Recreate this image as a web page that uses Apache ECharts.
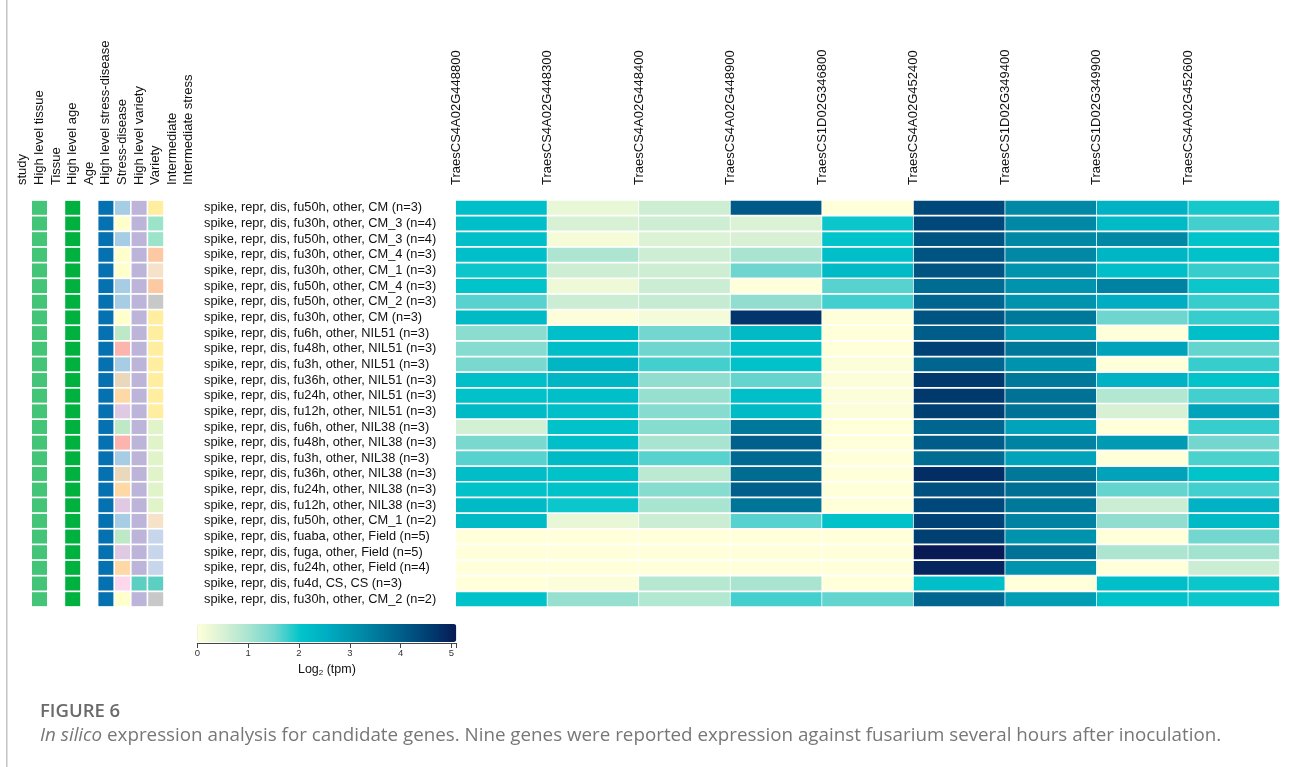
<!DOCTYPE html>
<html>
<head>
<meta charset="utf-8">
<script src="https://cdn.jsdelivr.net/npm/echarts@6/dist/echarts.min.js"></script>
<style>
html,body{margin:0;padding:0;background:#fff;}
#c{width:1289px;height:767px;}
</style>
</head>
<body>
<div id="c"></div>
<script>
// ---------------- DATA ----------------
const rowLabels = [
  'spike, repr, dis, fu50h, other, CM (n=3)',
  'spike, repr, dis, fu30h, other, CM_3 (n=4)',
  'spike, repr, dis, fu50h, other, CM_3 (n=4)',
  'spike, repr, dis, fu30h, other, CM_4 (n=3)',
  'spike, repr, dis, fu30h, other, CM_1 (n=3)',
  'spike, repr, dis, fu50h, other, CM_4 (n=3)',
  'spike, repr, dis, fu50h, other, CM_2 (n=3)',
  'spike, repr, dis, fu30h, other, CM (n=3)',
  'spike, repr, dis, fu6h, other, NIL51 (n=3)',
  'spike, repr, dis, fu48h, other, NIL51 (n=3)',
  'spike, repr, dis, fu3h, other, NIL51 (n=3)',
  'spike, repr, dis, fu36h, other, NIL51 (n=3)',
  'spike, repr, dis, fu24h, other, NIL51 (n=3)',
  'spike, repr, dis, fu12h, other, NIL51 (n=3)',
  'spike, repr, dis, fu6h, other, NIL38 (n=3)',
  'spike, repr, dis, fu48h, other, NIL38 (n=3)',
  'spike, repr, dis, fu3h, other, NIL38 (n=3)',
  'spike, repr, dis, fu36h, other, NIL38 (n=3)',
  'spike, repr, dis, fu24h, other, NIL38 (n=3)',
  'spike, repr, dis, fu12h, other, NIL38 (n=3)',
  'spike, repr, dis, fu50h, other, CM_1 (n=2)',
  'spike, repr, dis, fuaba, other, Field (n=5)',
  'spike, repr, dis, fuga, other, Field (n=5)',
  'spike, repr, dis, fu24h, other, Field (n=4)',
  'spike, repr, dis, fu4d, CS, CS (n=3)',
  'spike, repr, dis, fu30h, other, CM_2 (n=2)'
];

const annotHeaders = ['study','High level tissue','Tissue','High level age','Age',
  'High level stress-disease','Stress-disease','High level variety','Variety',
  'Intermediate','Intermediate stress'];

const hlTissue = Array(26).fill('spike');
const hlAge = Array(26).fill('repr');
const hlStress = Array(26).fill('dis');
const stressDisease = ['fu50h','fu30h','fu50h','fu30h','fu30h','fu50h','fu50h','fu30h',
  'fu6h','fu48h','fu3h','fu36h','fu24h','fu12h',
  'fu6h','fu48h','fu3h','fu36h','fu24h','fu12h',
  'fu50h','fuaba','fuga','fu24h','fu4d','fu30h'];
const hlVariety = ['other','other','other','other','other','other','other','other',
  'other','other','other','other','other','other','other','other','other','other',
  'other','other','other','other','other','other','CS','other'];
const variety = ['CM','CM_3','CM_3','CM_4','CM_1','CM_4','CM_2','CM',
  'NIL51','NIL51','NIL51','NIL51','NIL51','NIL51',
  'NIL38','NIL38','NIL38','NIL38','NIL38','NIL38',
  'CM_1','Field','Field','Field','CS','CM_2'];

const genes = ['TraesCS4A02G448800','TraesCS4A02G448300','TraesCS4A02G448400',
  'TraesCS4A02G448900','TraesCS1D02G346800','TraesCS4A02G452400',
  'TraesCS1D02G349400','TraesCS1D02G349900','TraesCS4A02G452600'];

// log2(tpm) per gene, rows in the order of rowLabels
const g4A448800 = [2.1,2.1,2.1,2.1,1.95,2.0,1.6,2.2,1.25,1.3,1.4,2.1,2.05,2.2,0.55,1.4,1.6,2.15,2.05,2.2,2.2,0,0,0,0,2.05];
const g4A448300 = [0.3,0.5,0.1,0.95,0.6,0.2,0.65,0.05,2.1,2.15,2.3,2.3,2.1,2.1,2.05,2.1,2.2,2.05,2.05,1.95,0.3,0,0,0,0.05,1.15];
const g4A448400 = [0.6,0.6,0.45,0.6,0.6,0.65,0.7,0.15,1.45,1.5,1.7,1.2,1.15,1.3,1.3,1.0,1.6,0.8,1.3,1.0,0.65,0,0,0,0.85,0.9];
const g4A448900 = [4.0,0.45,0.5,1.0,1.5,0,1.2,4.6,2.2,2.1,2.05,1.55,2.1,2.2,3.5,3.9,3.75,3.7,3.9,3.55,1.6,0,0,0,1.0,1.7];
const g1D346800 = [0,1.95,2.0,2.1,2.2,1.6,1.7,0,0,0,0.05,0.05,0.05,0.05,0,0,0,0,0,0,2.05,0,0,0,0,1.55];
const g4A452400 = [4.3,4.3,4.1,4.1,4.1,3.7,3.8,4.1,3.95,4.4,3.8,4.55,4.55,4.45,3.8,3.95,3.7,4.7,4.15,4.3,4.4,4.45,5.0,4.85,2.1,3.8];
const g1D349400 = [3.2,3.2,3.2,3.2,3.0,3.0,3.0,3.5,2.8,3.5,3.0,3.5,3.6,3.6,2.7,3.3,2.7,3.5,3.65,3.5,3.3,3.0,3.6,3.0,0,2.8];
const g1D349900 = [2.4,2.2,3.2,2.3,2.1,3.3,2.5,1.5,0,2.7,0,2.4,0.9,0.5,0,2.85,0,2.7,1.55,0.65,1.2,0,0.95,0,2.1,2.05];
const g4A452600 = [1.9,1.7,2.0,2.05,1.75,1.95,1.75,1.75,2.1,1.55,1.75,2.0,1.7,2.7,1.75,1.45,1.65,2.0,1.7,2.4,2.2,1.45,1.05,0.65,1.95,1.95];

const colorTicks = [0,1,2,3,4,5];

// ---------------- STYLE MAPS ----------------
const palette = {
  spike:'#43c476', repr:'#00b140', dis:'#0571b0',
  fu50h:'#a6cde3', fu30h:'#ffffcc', fu6h:'#bee9c6', fu48h:'#fbb4ae', fu3h:'#a6cde3',
  fu36h:'#ead8bd', fu24h:'#fed9a6', fu12h:'#dfc9e3', fuaba:'#bee9c6', fuga:'#dfc9e3', fu4d:'#fdd8ec',
  other:'#bcb5d9', CS:'#5ccfc2',
  CM:'#ffeda0', CM_3:'#9be3c9', CM_4:'#fdc9a2', CM_1:'#f5e2c8', CM_2:'#c8c8c8',
  NIL51:'#ffeda0', NIL38:'#e1f3c9', Field:'#c7d6ea'
};
const scaleColors = ['#ffffd9','#d8f1d4','#a8e4d0','#6ed6cf','#00c4c9','#00adc2','#0093ad','#00789a','#005a87','#003c70','#081a55'];

// ---------------- BUILD ----------------
const geneValues = [g4A448800,g4A448300,g4A448400,g4A448900,g1D346800,g4A452400,g1D349400,g1D349900,g4A452600];
const heatData = [];
geneValues.forEach((arr, gi) => arr.forEach((v, r) => heatData.push([gi, r, v])));

const annotCols = {1: hlTissue, 3: hlAge, 5: hlStress, 6: stressDisease, 7: hlVariety, 8: variety};
const annotData = [], annotColor = [];
Object.keys(annotCols).forEach(k => {
  annotCols[k].forEach((cat, r) => { annotData.push([+k, r]); annotColor.push(palette[cat]); });
});

const FONT = 'Liberation Sans, Arial, sans-serif';
const chart = echarts.init(document.getElementById('c'), null, {renderer: 'canvas'});
chart.setOption({
  backgroundColor: '#fff',
  animation: false,
  grid: [
    {left: 14.6, width: 182.6, top: 200, height: 407},
    {left: 456, width: 824, top: 200, height: 407},
    {left: 197.3, width: 259.2, top: 643, height: 0}
  ],
  xAxis: [
    {gridIndex: 0, type: 'category', data: annotHeaders, position: 'top',
      axisLine: {show: false}, axisTick: {show: false},
      axisLabel: {rotate: -90, margin: 15, interval: 0, fontFamily: FONT, fontSize: 13, color: '#111'}},
    {gridIndex: 1, type: 'value', min: 0, max: 9, interval: 1, position: 'top',
      splitLine: {show: false}, axisLine: {show: false}, axisTick: {show: false},
      axisLabel: {rotate: -90, margin: 15, showMaxLabel: true, fontFamily: FONT, fontSize: 13, color: '#111',
        formatter: v => genes[v] || ''}},
    {gridIndex: 2, type: 'value', min: 0, max: 5.1, interval: 1, position: 'bottom',
      splitLine: {show: false},
      axisLine: {show: true, lineStyle: {color: '#444', width: 1}},
      axisTick: {show: true, length: 5, lineStyle: {color: '#444'}},
      axisLabel: {margin: 5, fontFamily: FONT, fontSize: 9.5, color: '#333',
        formatter: v => (colorTicks.indexOf(v) >= 0 ? String(v) : '')},
      name: 'Log{s|2} (tpm)', nameLocation: 'middle', nameGap: 20,
      nameTextStyle: {fontFamily: FONT, fontSize: 12.5, color: '#111',
        rich: {s: {fontSize: 8, verticalAlign: 'bottom', padding: [6, 0, 0, 0], fontFamily: FONT, color: '#111'}}}}
  ],
  yAxis: [
    {gridIndex: 0, type: 'category', data: rowLabels, inverse: true, show: false},
    {gridIndex: 1, type: 'category', data: rowLabels, inverse: true,
      axisLine: {show: false}, axisTick: {show: false},
      axisLabel: {align: 'left', margin: 252, interval: 0, fontFamily: FONT, fontSize: 12.8, color: '#111'}},
    {gridIndex: 2, type: 'value', show: false}
  ],
  visualMap: [{
    type: 'continuous', seriesIndex: 1, dimension: 2, min: 0, max: 5,
    orient: 'horizontal', left: 197.3, top: 624, itemWidth: 18, itemHeight: 259,
    calculable: false, realtime: false, padding: 0, text: null, showLabel: false,
    inRange: {color: scaleColors}
  }],
  series: [
    {type: 'custom', xAxisIndex: 0, yAxisIndex: 0, data: annotData,
      renderItem: function (params, api) {
        const p = api.coord([api.value(0), api.value(1)]);
        const bw = api.size([1, 0])[0], bh = api.size([0, 1])[1];
        return {type: 'rect',
          shape: {x: p[0] - (bw - 1.6) / 2, y: p[1] - (bh - 1.7) / 2, width: bw - 1.6, height: bh - 1.7},
          style: {fill: annotColor[params.dataIndex]}};
      }},
    {type: 'custom', xAxisIndex: 1, yAxisIndex: 1, data: heatData,
      renderItem: function (params, api) {
        const gx = api.value(0), r = api.value(1);
        const p0 = api.coord([gx, r]), p1 = api.coord([gx + 1, r]);
        const bh = api.size([0, 1])[1];
        return {type: 'rect',
          shape: {x: p0[0], y: p0[1] - (bh - 1.7) / 2, width: p1[0] - p0[0] - 0.8, height: bh - 1.7},
          style: {fill: api.visual('color')}};
      }}
  ],
  graphic: [
    {type: 'rect', shape: {x: 6, y: 0, width: 1.5, height: 767}, style: {fill: '#c4c4c4'}, silent: true},
    {type: 'text', left: 40, top: 702,
      style: {text: 'FIGURE 6', fontFamily: 'Open Sans', fontWeight: 600, fontSize: 18.5, fill: '#6a6a6a'}},
    {type: 'text', left: 40, top: 726,
      style: {text: '{i|In silico} expression analysis for candidate genes. Nine genes were reported expression against fusarium several hours after inoculation.',
        fontFamily: 'Open Sans', fontSize: 18.8, fill: '#777777',
        rich: {i: {fontStyle: 'italic', fontFamily: 'Open Sans', fontSize: 18.8, fill: '#777777'}}}}
  ]
});
</script>
</body>
</html>
